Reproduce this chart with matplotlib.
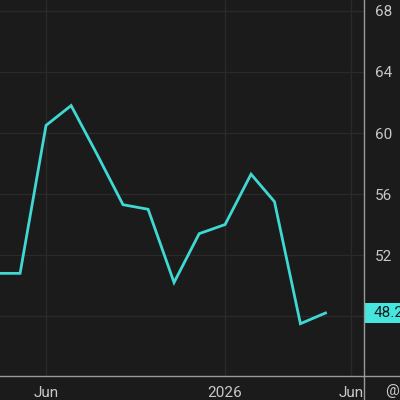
import matplotlib
matplotlib.use("Agg")
import matplotlib.pyplot as plt
import matplotlib.dates as mdates
from matplotlib.lines import Line2D
from matplotlib.patches import Rectangle
import datetime as dt

matplotlib.rcParams['font.family'] = ['Roboto', 'DejaVu Sans']

# monthly readings (1st of each month)
months = ["2025-04", "2025-05", "2025-06", "2025-07", "2025-08", "2025-09", "2025-10",
          "2025-11", "2025-12", "2026-01", "2026-02", "2026-03", "2026-04", "2026-05"]
values = [50.8, 50.8, 60.5, 61.8, 58.6, 55.3, 55.0, 50.2, 53.4, 54.0, 57.3, 55.5, 47.5, 48.2]
last_label = "48.2"
y_ticks = [48, 52, 56, 60, 64, 68]
y_tick_labels = ["", "52", "56", "60", "64", "68"]
x_ticks = ["2025-06-01", "2026-01-01", "2026-06-01"]
x_tick_labels = ["Jun", "2026", "Jun"]

bg = '#1b1b1b'
line_col = '#3fd8d2'
tag_col = '#45e6e0'
text_col = '#c8c8c8'
grid_col = '#2a2a2a'
axis_col = '#9a9a9a'

dates = [dt.datetime.strptime(m + "-01", "%Y-%m-%d") for m in months]

fig = plt.figure(figsize=(4, 4), dpi=100, facecolor=bg)
ax = fig.add_axes([0, 0.06, 0.91, 0.94], facecolor=bg)

ax.plot(dates, values, color=line_col, linewidth=2.0, solid_joinstyle='miter', zorder=3)

ax.set_xlim(dt.datetime(2025, 4, 7), dt.datetime(2026, 6, 16))
ax.set_ylim(44.07, 68.72)

ax.set_yticks(y_ticks)
ax.set_yticklabels(y_tick_labels)
ax.yaxis.tick_right()
ax.set_xticks([mdates.date2num(dt.datetime.strptime(d, "%Y-%m-%d")) for d in x_ticks])
ax.set_xticklabels(x_tick_labels)
ax.tick_params(axis='y', length=0, pad=8, colors=text_col, labelsize=11)
ax.tick_params(axis='x', length=0, pad=7, colors=text_col, labelsize=11)
ax.grid(True, color=grid_col, linewidth=1.0)
for s in ax.spines.values():
    s.set_visible(False)

# axis lines spanning the whole figure
fig.add_artist(Line2D([0, 1], [0.06, 0.06], transform=fig.transFigure, color=axis_col, linewidth=1.0))
fig.add_artist(Line2D([0.91, 0.91], [0, 1], transform=fig.transFigure, color=axis_col, linewidth=1.0))

# last value tag
ax.add_patch(Rectangle((1.0, values[-1] - 0.65), 0.1, 1.3, transform=ax.get_yaxis_transform(),
                       facecolor=tag_col, edgecolor='none', clip_on=False, zorder=5))
ax.text(1.025, values[-1], last_label, transform=ax.get_yaxis_transform(), ha='left', va='center',
        fontsize=11, color='#1b1b1b', clip_on=False, zorder=6)

fig.text(0.962, 0.022, "@", color=text_col, fontsize=11, ha='left', va='center')

fig.savefig("out.png", dpi=100, facecolor=bg)
